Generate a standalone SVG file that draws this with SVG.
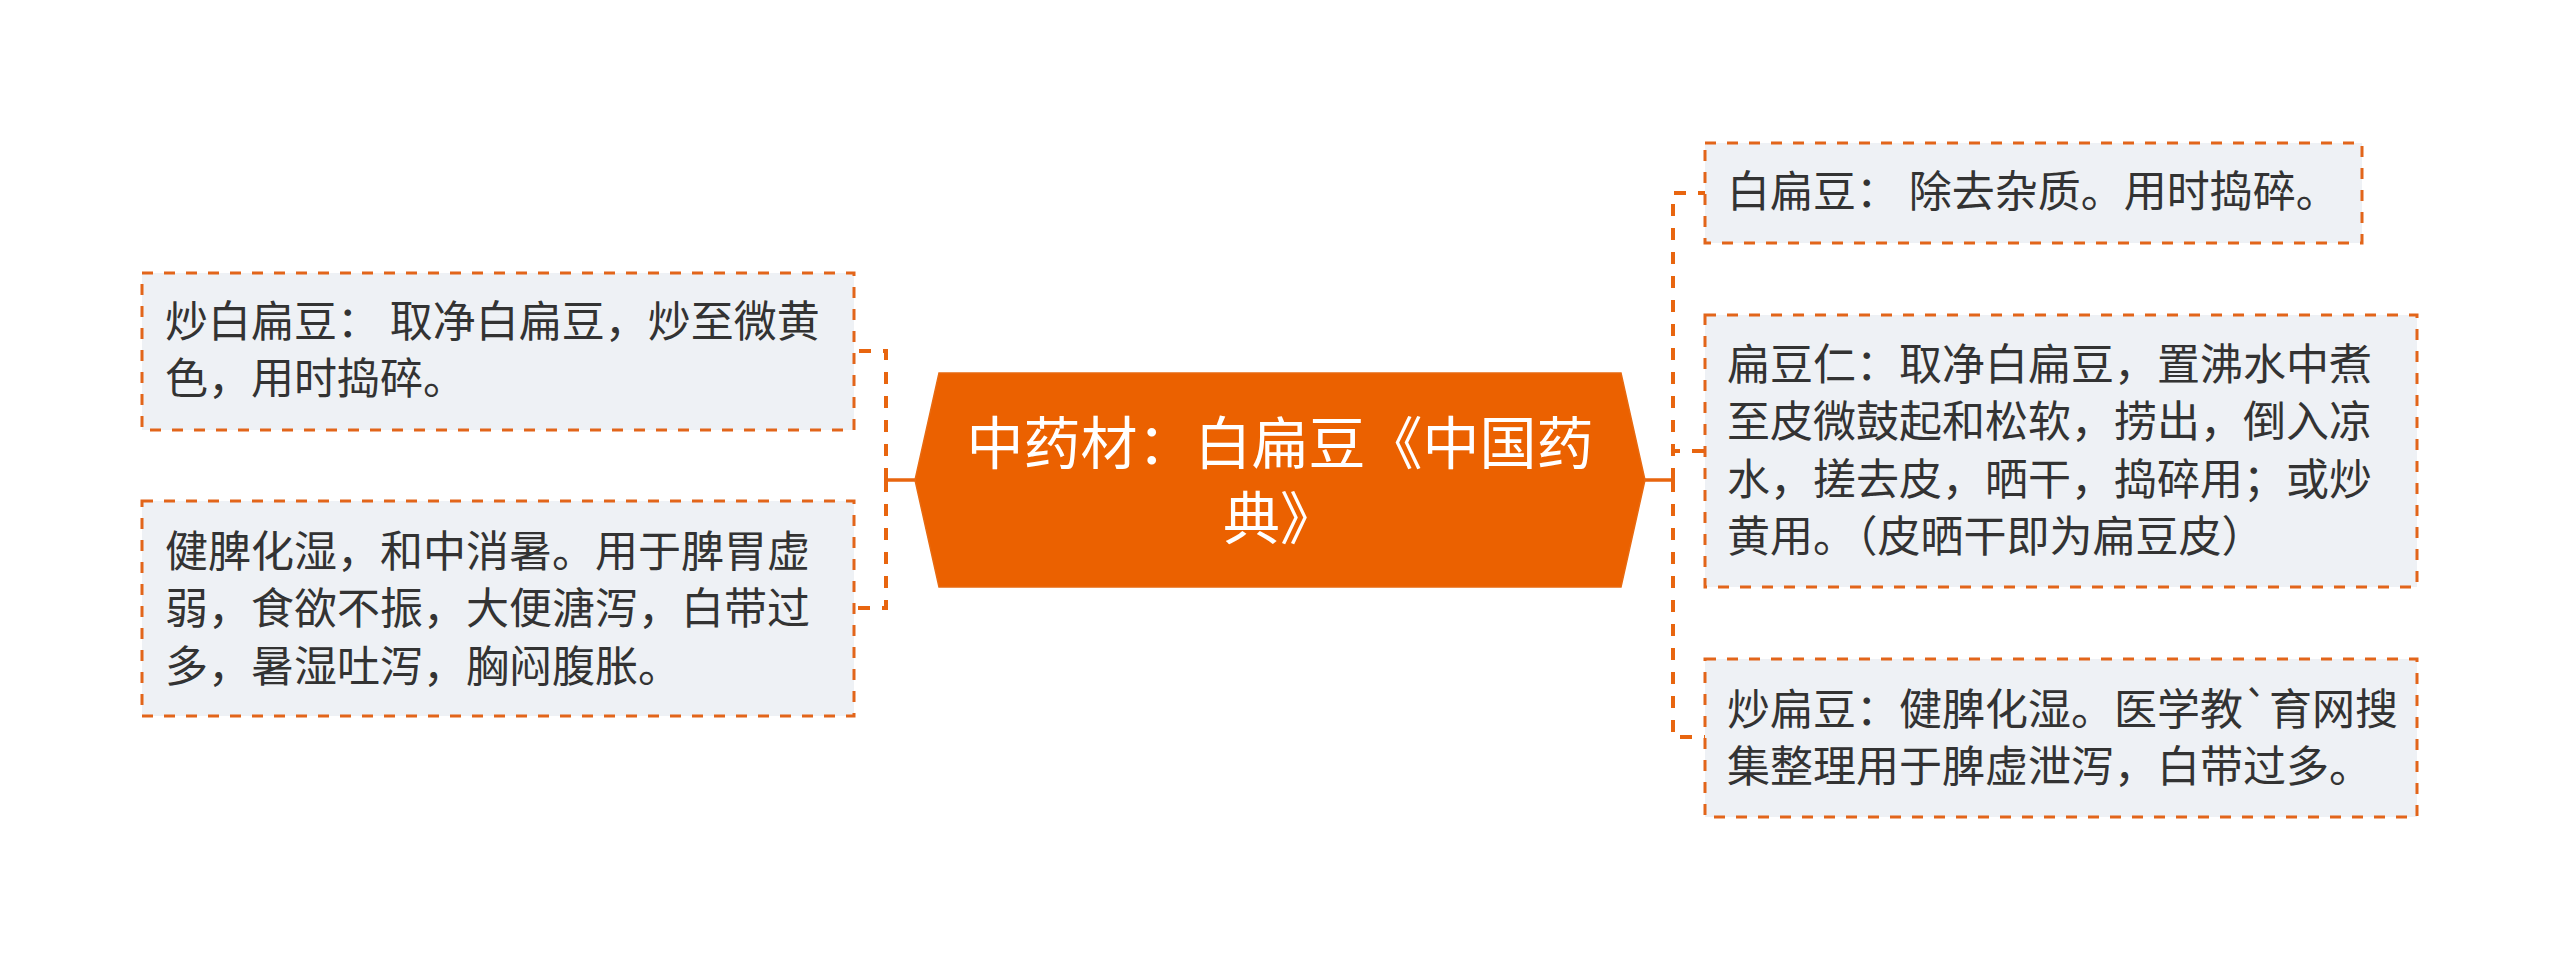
<svg xmlns="http://www.w3.org/2000/svg" width="2560" height="960" viewBox="0 0 2560 960">
<style>
.box{fill:#eef1f5;stroke:#e2651a;stroke-width:3;stroke-dasharray:11 11}
.t{font-family:"Noto Sans CJK SC","Noto Sans",sans-serif;font-size:43px;fill:#333333}
.ct{font-family:"Noto Sans CJK SC","Noto Sans",sans-serif;font-size:57px;fill:#ffffff;text-anchor:middle}
.solid{fill:none;stroke:#e8650f;stroke-width:3.5}
.dash{fill:none;stroke:#e8650f;stroke-width:4;stroke-dasharray:12 12}
</style>
<rect width="2560" height="960" fill="#ffffff"/>
<g id="connectors">
<path class="solid" d="M915,480 H886 M886,468 V492"/>
<path class="dash" d="M886,480 V351 H854"/>
<path class="dash" d="M886,480 V608 H854"/>
<path class="solid" d="M1645,480 H1673 M1673,468 V492"/>
<path class="dash" d="M1673,480 V193 H1705"/>
<path class="dash" d="M1673,480 V451 H1705"/>
<path class="dash" d="M1673,480 V737 H1705"/>
</g>
<g id="center">
<polygon points="939,373 1621,373 1645,480 1621,587 939,587 915,480" fill="#eb6100" stroke="#e86a10" stroke-width="1.5"/>
<text class="ct" x="1280" y="464">中药材：白扁豆《中国药</text>
<text class="ct" x="1280" y="539">典》</text>
</g>
<g id="left1">
<rect class="box" x="142" y="273" width="712" height="157"/>
<text class="t" x="165" y="337">炒白扁豆： 取净白扁豆，炒至微黄</text>
<text class="t" x="165" y="394">色，用时捣碎。</text>
</g>
<g id="left2">
<rect class="box" x="142" y="501" width="712" height="215"/>
<text class="t" x="165" y="567">健脾化湿，和中消暑。用于脾胃虚</text>
<text class="t" x="165" y="624">弱，食欲不振，大便溏泻，白带过</text>
<text class="t" x="165" y="682">多，暑湿吐泻，胸闷腹胀。</text>
</g>
<g id="right1">
<rect class="box" x="1705" y="143" width="657" height="100"/>
<text class="t" x="1727" y="207">白扁豆： 除去杂质。用时捣碎。</text>
</g>
<g id="right2">
<rect class="box" x="1705" y="315" width="712" height="272"/>
<text class="t" x="1727" y="380">扁豆仁：取净白扁豆，置沸水中煮</text>
<text class="t" x="1727" y="437">至皮微鼓起和松软，捞出，倒入凉</text>
<text class="t" x="1727" y="495">水，搓去皮，晒干，捣碎用；或炒</text>
<text class="t" x="1727" y="552">黄用。（皮晒干即为扁豆皮）</text>
</g>
<g id="right3">
<rect class="box" x="1705" y="659" width="712" height="158"/>
<text class="t" x="1727" y="725">炒扁豆：健脾化湿。医学教`育网搜</text>
<text class="t" x="1727" y="782">集整理用于脾虚泄泻，白带过多。</text>
</g>
</svg>
